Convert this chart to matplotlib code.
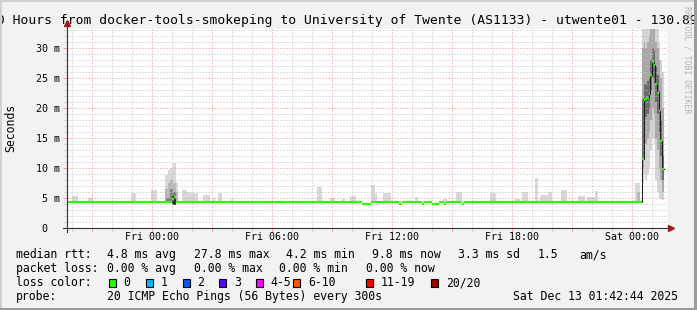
import matplotlib
matplotlib.use("Agg")
import matplotlib.pyplot as plt
import matplotlib.transforms as mtransforms
from matplotlib.patches import Rectangle
from matplotlib.lines import Line2D
from matplotlib.ticker import MultipleLocator
import numpy as np

############################################################
# Data  (time in hours from Fri 00:00, rtt in ms)
############################################################

STEP = 300 / 3600.0
T_FIRST, T_LAST = -4.26, 25.74
Y_TOP = 33.2
SMOKE_BASE = 4.2

# median rtt as step segments (start hour, value)
med_start = [-4.26, 0.98, 1.09, 1.19, 10.50, 10.95, 12.35, 12.50,
             13.50, 13.60, 14.00, 14.35, 14.60, 14.70, 15.50, 15.60]
med_value = [4.3, 4.8, 5.2, 4.3, 4.1, 4.3, 4.1, 4.3,
             4.1, 4.3, 4.1, 4.3, 4.1, 4.3, 4.1, 4.3]

# burst on Saturday morning, one entry per probe step
burst_start = 24.49
burst_median = [11.6, 21.4, 21.5, 21.7, 22.3, 25.5, 27.7, 27.2, 24.1, 22.6, 19.6, 14.6, 9.8]
burst_lo = [7.5, 9.0, 8.0, 9.0, 10.0, 13.0, 15.0, 14.0, 8.0, 6.0, 5.0, 4.8, 4.7]
burst_hi = [35.0, 35.0, 35.0, 35.0, 35.0, 35.0, 35.0, 35.0, 35.0, 35.0, 31.0, 28.0, 26.0]
burst_q1 = [10.0, 13.0, 14.0, 15.0, 16.0, 18.0, 20.0, 19.0, 15.0, 13.0, 10.0, 8.0, 6.0]
burst_q3 = [30.0, 31.0, 30.0, 31.0, 32.0, 35.0, 35.0, 35.0, 31.0, 30.0, 28.0, 25.0, 20.0]
burst_d1 = [11.3, 18.0, 18.5, 19.0, 20.0, 23.0, 25.0, 24.0, 21.0, 19.0, 16.0, 12.0, 8.0]
burst_d2 = [21.5, 24.0, 24.0, 24.5, 25.0, 28.0, 30.0, 29.5, 27.0, 25.5, 23.0, 18.0, 12.0]

# light smoke spikes above the baseline
spike_start = [-4.00, -3.20, -1.05, -0.05, 0.65, 0.80, 0.90, 1.05, 1.20, 1.50, 1.75, 1.90,
               2.55, 3.05, 3.30, 3.95, 8.25, 8.90, 9.50, 9.90, 10.95, 11.15, 11.55, 13.15,
               14.55, 15.20, 16.90, 18.15, 18.50, 19.15, 19.40, 19.80, 20.45, 21.30, 21.75,
               22.15, 24.15]
spike_end = [-3.70, -2.95, -0.80, 0.25, 0.80, 0.90, 1.05, 1.20, 1.30, 1.75, 1.90, 2.30,
             2.90, 3.15, 3.50, 4.05, 8.50, 9.15, 9.65, 10.20, 11.15, 11.25, 11.95, 13.30,
             14.75, 15.50, 17.20, 18.40, 18.80, 19.30, 19.80, 20.00, 20.75, 21.65, 22.15,
             22.30, 24.40]
spike_top = [5.3, 5.0, 5.9, 6.4, 8.8, 9.7, 10.0, 10.9, 7.7, 6.3, 6.0, 5.9,
             5.6, 5.0, 5.8, 4.9, 6.8, 5.0, 4.9, 5.3, 7.2, 5.8, 5.9, 5.2,
             4.9, 6.1, 5.8, 4.9, 6.1, 8.3, 5.5, 6.1, 6.3, 5.3, 5.2,
             6.2, 7.5]

# denser smoke for the Fri 01:00 event
mid_start = [0.65, 0.80, 0.90, 1.05, 1.20, 24.25]
mid_end = [0.80, 0.90, 1.05, 1.20, 1.30, 24.40]
mid_top = [6.5, 7.5, 8.0, 7.5, 6.0, 6.0]
dark_start = [0.70, 0.90, 1.05]
dark_end = [0.90, 1.05, 1.20]
dark_top = [5.0, 6.5, 6.0]
core_start = [0.98]
core_end = [1.19]
core_lo = [3.8]
core_hi = [5.3]

x_major = 3
x_minor = 1
x_label_pos = [0, 6, 12, 18, 24]
x_label_txt = ["Fri 00:00", "Fri 06:00", "Fri 12:00", "Fri 18:00", "Sat 00:00"]
y_label_pos = [0, 5, 10, 15, 20, 25, 30]
y_label_txt = [" 0", " 5 m", "10 m", "15 m", "20 m", "25 m", "30 m"]

loss_labels = ["0", "1", "2", "3", "4-5", "6-10", "11-19", "20/20"]
loss_colors = ["#26ff00", "#00b8ff", "#0059ff", "#5e00ff", "#ff00ff", "#ff5500", "#ff0000", "#a00000"]

title = ("30 Hours from docker-tools-smokeping to University of Twente (AS1133)"
         " - utwente01 - 130.89.0.1")

############################################################
# Figure
############################################################

W, H = 697, 310
MONO = "DejaVu Sans Mono"
BACK = "#f2f2f2"

fig = plt.figure(figsize=(W / 100, H / 100), dpi=100)
fig.patch.set_facecolor(BACK)


def fx(x):
    return x / W


def fy(y):
    return 1 - y / H


AX_L, AX_R, AX_B, AX_T = 67, 667, 228.3, 29
ax = fig.add_axes([fx(AX_L), fy(AX_B), (AX_R - AX_L) / W, (AX_B - AX_T) / H])
ax.set_facecolor("white")
ax.set_xlim(T_FIRST, T_LAST)
ax.set_ylim(0, Y_TOP)
for s in ax.spines.values():
    s.set_visible(False)

# smoke
ax.bar(spike_start, np.array(spike_top) - SMOKE_BASE,
       width=np.array(spike_end) - np.array(spike_start),
       bottom=SMOKE_BASE, align="edge", color="#d9d9d9", linewidth=0, zorder=1)
ax.bar(mid_start, np.array(mid_top) - SMOKE_BASE,
       width=np.array(mid_end) - np.array(mid_start),
       bottom=SMOKE_BASE, align="edge", color="#b8b8b8", linewidth=0, zorder=1.1)
ax.bar(dark_start, np.array(dark_top) - SMOKE_BASE,
       width=np.array(dark_end) - np.array(dark_start),
       bottom=SMOKE_BASE, align="edge", color="#808080", linewidth=0, zorder=1.2)
ax.bar(core_start, np.array(core_hi) - np.array(core_lo),
       width=np.array(core_end) - np.array(core_start),
       bottom=core_lo, align="edge", color="#303030", linewidth=0, zorder=1.3)

bx = burst_start + STEP * np.arange(len(burst_median))
ax.bar(bx, np.array(burst_hi) - np.array(burst_lo), width=STEP, bottom=burst_lo,
       align="edge", color="#d4d4d4", linewidth=0, zorder=1)
ax.bar(bx, np.array(burst_q3) - np.array(burst_q1), width=STEP, bottom=burst_q1,
       align="edge", color="#a8a8a8", linewidth=0, zorder=1.1)
ax.bar(bx, np.array(burst_d2) - np.array(burst_d1), width=STEP, bottom=burst_d1,
       align="edge", color="#6c6c6c", linewidth=0, zorder=1.2)

# median: thin dark step line through the burst, loss coloured segments everywhere
seg_start = list(med_start) + list(bx)
seg_value = list(med_value) + list(burst_median)
seg_end = seg_start[1:] + [seg_start[-1] + STEP]
n0 = len(med_start) - 1
ax.step(seg_start[n0:] + [seg_end[-1]], seg_value[n0:] + [seg_value[-1]], where="post",
        color="#202020", linewidth=0.75, zorder=3)
ax.hlines(seg_value, seg_start, seg_end, color=loss_colors[0], linewidth=1.6, zorder=4)

# grid
ax.xaxis.set_major_locator(MultipleLocator(x_major))
ax.xaxis.set_minor_locator(MultipleLocator(x_minor))
ax.yaxis.set_major_locator(MultipleLocator(5))
ax.yaxis.set_minor_locator(MultipleLocator(1))
ax.set_axisbelow(False)
ax.grid(which="major", color="#ee9090", linestyle=(0, (1, 2)), linewidth=0.72)
ax.grid(which="minor", color="#c0c0c0", linestyle=(0, (1, 2)), linewidth=0.72)
ax.tick_params(which="both", labelbottom=False, labelleft=False, width=0.72)
ax.tick_params(which="major", length=3, color="#f2a0a0")
ax.tick_params(which="minor", length=2, color="#d2d2d2")

# tick labels
tx = mtransforms.offset_copy(ax.get_xaxis_transform(), fig=fig, x=0, y=-12, units="dots")
for p, t in zip(x_label_pos, x_label_txt):
    ax.text(p, 0, t, transform=tx, ha="center", va="baseline",
            family=MONO, size=7.2, color="black")
ty = mtransforms.offset_copy(ax.get_yaxis_transform(), fig=fig, x=-31.2, y=-3.4, units="dots")
for p, t in zip(y_label_pos, y_label_txt):
    ax.text(0, p, t, transform=ty, ha="left", va="baseline",
            family=MONO, size=7.2, color="black")

# axes with arrows
AXIS = "#303030"
ARROW = "#9c1c1c"
fig.add_artist(Line2D([fx(63), fx(669)], [fy(AX_B), fy(AX_B)], color=AXIS, linewidth=0.8))
fig.add_artist(Line2D([fx(AX_L), fx(AX_L)], [fy(232), fy(24)], color=AXIS, linewidth=0.8))
fig.add_artist(Line2D([fx(671)], [fy(AX_B)], marker=">", markersize=4.5,
                      color=ARROW, linestyle="none"))
fig.add_artist(Line2D([fx(AX_L)], [fy(22.5)], marker="^", markersize=4.5,
                      color=ARROW, linestyle="none"))

# title, labels, watermark
fig.text(fx(-10.8), fy(24), title, ha="left", va="baseline", family=MONO, size=9.4)
fig.text(fx(10.5), fy(127.5), "Seconds", rotation=90, ha="center", va="center",
         family=MONO, size=8.3)
fig.text(fx(686.5), fy(59.5), "RRDTOOL / TOBI OETIKER", rotation=-90, ha="center",
         va="center", family=MONO, size=5.9, color="#b4b4b4")

# legend block
LS = 8.3
rows = [
    (258, [(16, "median rtt:"), (107, "4.8 ms avg"), (194, "27.8 ms max"), (286, "4.2 ms min"),
           (372.3, "9.8 ms now"), (458.3, "3.3 ms sd"), (537.7, "1.5"), (579.3, "am/s")]),
    (272, [(16, "packet loss:"), (107.3, "0.00 % avg"), (194, "0.00 % max"),
           (279.3, "0.00 % min"), (365.7, "0.00 % now")]),
    (286, [(16, "loss color:")]),
    (300, [(16, "probe:"), (107, "20 ICMP Echo Pings (56 Bytes) every 300s"),
           (513.3, "Sat Dec 13 01:42:44 2025")]),
]
for yb, items in rows:
    for xp, s in items:
        fig.text(fx(xp), fy(yb), s, ha="left", va="baseline", family=MONO, size=LS)

box_x = [108.7, 145.7, 182.7, 219.3, 256, 293.3, 365.7, 431]
for bxp, lab, col in zip(box_x, loss_labels, loss_colors):
    fig.add_artist(Rectangle((fx(bxp), fy(286.7)), 7 / W, 8 / H, facecolor=col,
                             edgecolor="black", linewidth=0.8, transform=fig.transFigure))
    fig.text(fx(bxp + 14.7), fy(286), lab, ha="left", va="baseline", family=MONO, size=LS)

# 3d frame
fig.add_artist(Rectangle((0, fy(2)), 1, 2 / H, facecolor="#d0d0d0", linewidth=0,
                         transform=fig.transFigure, zorder=10))
fig.add_artist(Rectangle((0, 0), 2 / W, 1, facecolor="#d0d0d0", linewidth=0,
                         transform=fig.transFigure, zorder=10))
fig.add_artist(Rectangle((fx(W - 2.7), 0), 2.7 / W, 1, facecolor="#9a9a9a", linewidth=0,
                         transform=fig.transFigure, zorder=11))
fig.add_artist(Rectangle((0, 0), 1, 2.4 / H, facecolor="#9a9a9a", linewidth=0,
                         transform=fig.transFigure, zorder=11))

fig.savefig("out.png", dpi=100, facecolor=BACK)
